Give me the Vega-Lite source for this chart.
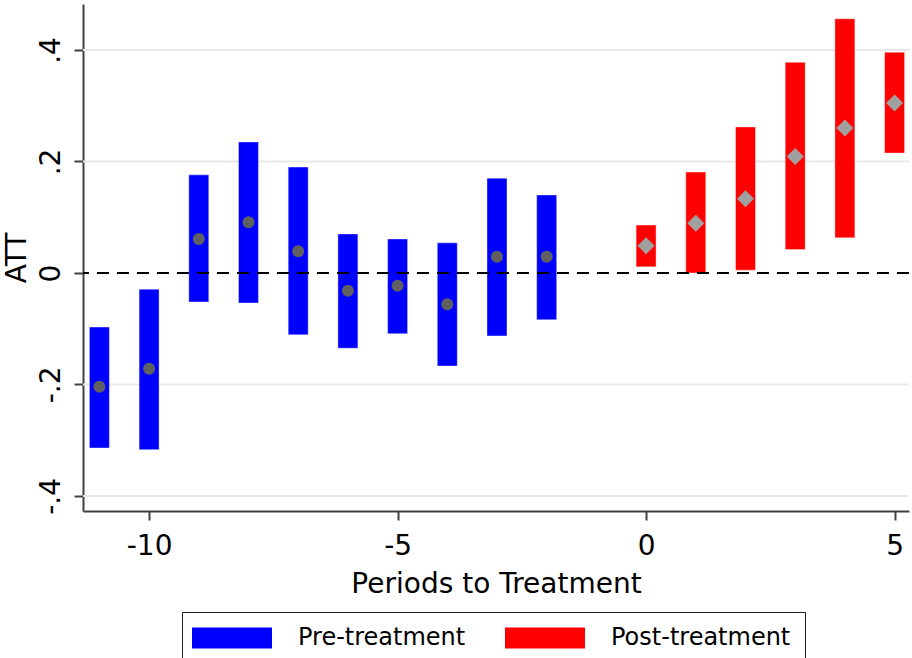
{
  "$schema": "https://vega.github.io/schema/vega-lite/v6.json",
  "width": 826,
  "height": 507,
  "autosize": {"type": "none"},
  "padding": {"left": 83, "top": 4, "right": 3, "bottom": 147},
  "background": "white",
  "config": {
    "view": {"stroke": null},
    "font": "DejaVu Sans",
    "axis": {"domainColor": "#404040", "tickColor": "#404040", "domainWidth": 2, "tickWidth": 2, "tickSize": 9, "labelColor": "black", "titleColor": "black", "labelFontSize": 28, "titleFontSize": 28, "titleFontWeight": "normal"}
  },
  "data": {
    "values": [
      {"period": -11, "lo": -0.314, "hi": -0.097, "att": -0.204, "phase": "Pre-treatment"},
      {"period": -10, "lo": -0.317, "hi": -0.029, "att": -0.172, "phase": "Pre-treatment"},
      {"period": -9, "lo": -0.052, "hi": 0.176, "att": 0.061, "phase": "Pre-treatment"},
      {"period": -8, "lo": -0.054, "hi": 0.235, "att": 0.091, "phase": "Pre-treatment"},
      {"period": -7, "lo": -0.111, "hi": 0.190, "att": 0.039, "phase": "Pre-treatment"},
      {"period": -6, "lo": -0.135, "hi": 0.070, "att": -0.032, "phase": "Pre-treatment"},
      {"period": -5, "lo": -0.109, "hi": 0.061, "att": -0.023, "phase": "Pre-treatment"},
      {"period": -4, "lo": -0.167, "hi": 0.054, "att": -0.056, "phase": "Pre-treatment"},
      {"period": -3, "lo": -0.113, "hi": 0.170, "att": 0.029, "phase": "Pre-treatment"},
      {"period": -2, "lo": -0.084, "hi": 0.140, "att": 0.029, "phase": "Pre-treatment"},
      {"period": 0, "lo": 0.011, "hi": 0.086, "att": 0.049, "phase": "Post-treatment"},
      {"period": 1, "lo": 0.0, "hi": 0.181, "att": 0.089, "phase": "Post-treatment"},
      {"period": 2, "lo": 0.005, "hi": 0.262, "att": 0.133, "phase": "Post-treatment"},
      {"period": 3, "lo": 0.042, "hi": 0.378, "att": 0.209, "phase": "Post-treatment"},
      {"period": 4, "lo": 0.063, "hi": 0.456, "att": 0.260, "phase": "Post-treatment"},
      {"period": 5, "lo": 0.215, "hi": 0.396, "att": 0.305, "phase": "Post-treatment"}
    ]
  },
  "encoding": {
    "x": {
      "field": "period", "type": "quantitative",
      "scale": {"domain": [-11.33, 5.29], "nice": false, "zero": false, "padding": 0},
      "axis": {"values": [-10, -5, 0, 5], "grid": false, "labelExpr": "toString(datum.value)", "labelPadding": 12, "title": "Periods to Treatment", "titlePadding": 10}
    }
  },
  "layer": [
    {
      "mark": {"type": "rule", "color": "#e8e8e8", "strokeWidth": 2},
      "data": {"values": [{"g": -0.4}, {"g": -0.2}, {"g": 0.2}, {"g": 0.4}]},
      "encoding": {"x": null, "y": {"field": "g", "type": "quantitative"}}
    },
    {
      "mark": {"type": "bar", "size": 20, "strokeWidth": 1, "strokeOpacity": 0.4, "stroke": "white"},
      "encoding": {
        "y": {
          "field": "lo", "type": "quantitative",
          "scale": {"domain": [-0.427, 0.4825], "nice": false, "zero": false, "padding": 0},
          "axis": {"values": [-0.4, -0.2, 0, 0.2, 0.4], "grid": false, "labelAngle": 270, "labelAlign": "center", "labelBaseline": "bottom", "labelPadding": 9, "labelExpr": "datum.value == 0 ? '0' : replace(toString(datum.value), '0.', '.')", "title": "ATT", "titlePadding": 6}
        },
        "y2": {"field": "hi"},
        "color": {
          "field": "phase", "type": "nominal",
          "scale": {"domain": ["Pre-treatment", "Post-treatment"], "range": ["#0000ff", "#ff0000"]},
          "legend": {
            "title": null, "orient": "none", "legendX": 99, "legendY": 608, "direction": "horizontal",
            "symbolType": "M-4,-1.05H4V1.05H-4Z", "symbolSize": 400, "symbolStrokeWidth": 0, "symbolOffset": 24,
            "labelFontSize": 24, "labelColor": "black", "labelOffset": 54, "labelLimit": 400, "columnPadding": 39,
            "strokeColor": "#222222", "fillColor": "white", "padding": 14
          }
        }
      }
    },
    {
      "mark": {"type": "rule", "color": "black", "strokeWidth": 2, "strokeDash": [12, 8]},
      "data": {"values": [{"z": 0}]},
      "encoding": {"x": null, "y": {"field": "z", "type": "quantitative"}}
    },
    {
      "transform": [{"filter": "datum.phase == 'Pre-treatment'"}],
      "mark": {"type": "point", "shape": "circle", "filled": true, "size": 144, "color": "#606060", "opacity": 1},
      "encoding": {"y": {"field": "att", "type": "quantitative"}}
    },
    {
      "transform": [{"filter": "datum.phase == 'Post-treatment'"}],
      "mark": {"type": "point", "shape": "diamond", "filled": true, "size": 289, "color": "#a0a0a0", "opacity": 1},
      "encoding": {"y": {"field": "att", "type": "quantitative"}}
    }
  ]
}
